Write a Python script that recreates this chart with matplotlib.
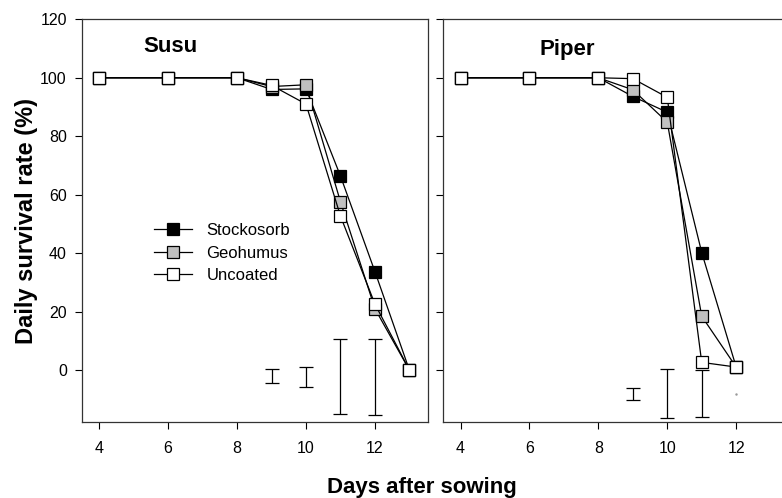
import matplotlib.pyplot as plt

plt.rcParams['font.family'] = ['Liberation Sans', 'DejaVu Sans']

days = [4, 6, 8, 9, 10, 11, 12, 13]
days_piper = [4, 6, 8, 9, 10, 11, 12]

names = ['Stockosorb', 'Geohumus', 'Uncoated']
fills = ['black', '#c0c0c0', 'white']

susu_stock = [100, 100, 100, 96.0, 96.2, 66.4, 33.7, 0]
susu_geo = [100, 100, 100, 97.0, 97.6, 57.6, 21.0, 0]
susu_unc = [100, 100, 100, 97.4, 91.0, 52.7, 22.6, 0]

piper_stock = [100, 100, 100, 93.6, 88.2, 40.2, 1.0]
piper_geo = [100, 100, 100, 95.9, 84.8, 18.4, 1.0]
piper_unc = [100, 100, 100, 99.7, 93.3, 2.6, 1.0]

# LSD bars (mid point, half length)
err_days = [9, 10, 11, 12]
susu_err_mid = [-2.2, -2.3, -2.25, -2.4]
susu_err_half = [2.4, 3.4, 12.85, 13.0]
piper_err_mid = [-8.2, -8.2, -8.1, -8.2]
piper_err_half = [2.2, 8.4, 8.0, 0.0]

fig = plt.figure(figsize=(7.82, 4.98), dpi=100)
ax1 = fig.add_axes([0.1049, 0.1532, 0.4428, 0.808])
ax2 = fig.add_axes([0.5669, 0.1532, 0.4428, 0.808])

def draw(ax, x, series, emid, ehalf, title, tx, ty):
    for ys, fc, nm in zip(series, fills, names):
        ax.plot(x, ys, color='black', lw=0.9, marker='s', ms=8.7,
                mfc=fc, mec='black', mew=0.9, label=nm)
    for d, m, h in zip(err_days, emid, ehalf):
        if h > 0:
            ax.errorbar([d], [m], yerr=[h], fmt='none', ecolor='black',
                        elinewidth=0.9, capsize=5, capthick=0.9)
        else:
            ax.plot([d], [m], marker='.', ms=1.5, color='#999999')
    ax.set_xlim(3.5, 13.55)
    ax.set_ylim(-17.7, 120)
    ax.set_xticks([4, 6, 8, 10, 12])
    ax.set_yticks([0, 20, 40, 60, 80, 100, 120])
    ax.tick_params(direction='out', length=5, width=0.8, labelsize=11.5)
    ax.tick_params(axis='x', pad=9)
    ax.tick_params(axis='y', pad=6)
    for s in ax.spines.values():
        s.set_linewidth(0.9)
        s.set_color('#333333')
    ax.text(tx, ty, title, fontsize=16, fontweight='bold', va='baseline')

draw(ax1, days, [susu_stock, susu_geo, susu_unc], susu_err_mid, susu_err_half, 'Susu', 5.27, 108.7)
draw(ax2, days_piper, [piper_stock, piper_geo, piper_unc], piper_err_mid, piper_err_half, 'Piper', 6.3, 107.9)
ax2.set_yticklabels([])

ax1.legend(loc='center left', bbox_to_anchor=(0.189, 0.419), borderaxespad=0,
           frameon=False, fontsize=12, handlelength=2.3, handletextpad=0.84,
           labelspacing=0.46)

ax1.set_ylabel('Daily survival rate (%)', fontsize=17, fontweight='bold', labelpad=1.5)
fig.text(0.539, 0.010, 'Days after sowing', fontsize=16, fontweight='bold', ha='center', va='baseline')

fig.savefig('out.png', dpi=100)
